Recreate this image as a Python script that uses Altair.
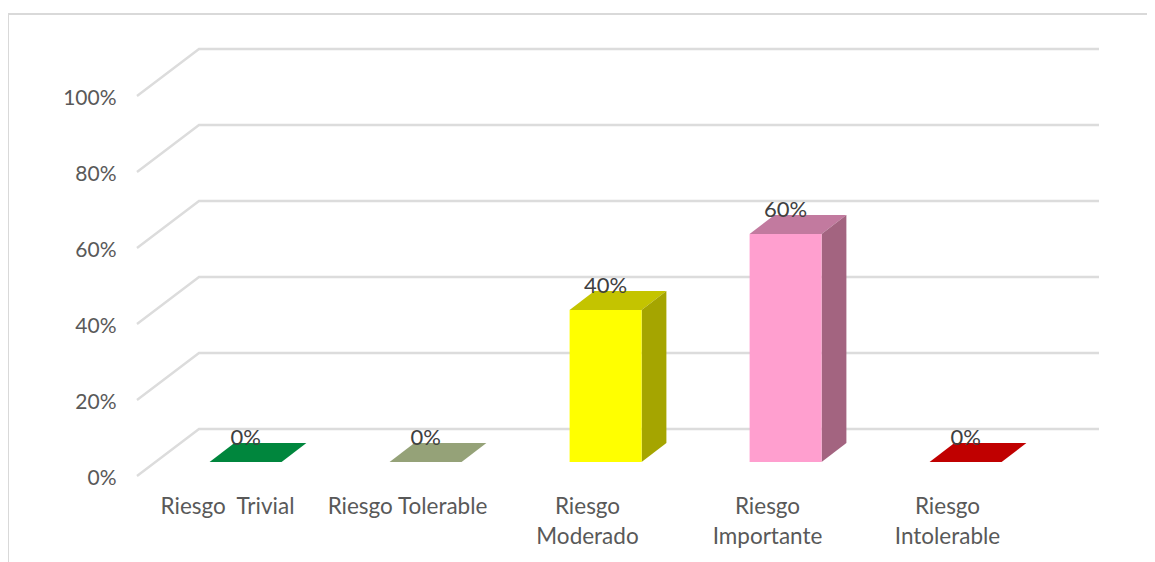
import json
import altair as alt
import pandas as pd

categories = ["Riesgo\u00a0 Trivial", "Riesgo Tolerable", "Riesgo\nModerado", "Riesgo\nImportante", "Riesgo\nIntolerable"]
values = [0, 0, 40, 60, 0]
labels = ["0%", "0%", "40%", "60%", "0%"]
front_colors = ["#00863D", "#95A278", "#FFFF00", "#FF9FCF", "#C00000"]
top_colors = ["#00863D", "#95A278", "#C4C400", "#C27A9F", "#C00000"]
side_colors = ["#00602C", "#6B7456", "#A5A500", "#A36480", "#8A0000"]
y_ticks = [0, 20, 40, 60, 80, 100]

# Depth of the pseudo-3D box, in axis units (1 category on x, 1 percent on y)
DX = 62 / 180
DY = 47 / 3.8
BAR_W = 72 / 180
D0, D1 = 0.3, 0.7
FONT = "Lato"
FS = 21

x_scale = alt.Scale(domain=[0, 5], nice=False, zero=False)
y_scale = alt.Scale(domain=[0, 100], nice=False, zero=False)
x_axis = alt.Axis(values=[i + 0.5 for i in range(5)], grid=False, domain=False, ticks=False,
                  labelExpr="split(" + json.dumps(categories) + "[floor(datum.value)], '\\n')",
                  labelFont=FONT, labelFontSize=22.5, labelColor="#595959", labelPadding=19,
                  labelLineHeight=30, labelAngle=0, labelOverlap=False, labelFlush=False, labelBound=False)
y_axis = alt.Axis(values=y_ticks, grid=False, domain=False, ticks=False,
                  labelExpr="datum.value + '%'", labelFont=FONT, labelFontSize=FS,
                  labelColor="#595959", labelPadding=21, labelOffset=2, labelOverlap=False,
                  labelFlush=False, labelBound=False)
X = alt.X("x:Q", scale=x_scale, title=None, axis=x_axis)
Y = alt.Y("y:Q", scale=y_scale, title=None, axis=y_axis)

# walls
grid_rows = []
for t in y_ticks:
    grid_rows += [
        {"tick": t, "order": 0, "x": 0, "y": t},
        {"tick": t, "order": 1, "x": DX, "y": t + DY},
        {"tick": t, "order": 2, "x": 5 + DX, "y": t + DY},
    ]
grid = alt.Chart(pd.DataFrame(grid_rows)).mark_line(color="#DCDCDC", strokeWidth=2.4).encode(
    x=X, y=Y, detail="tick:N", order="order:Q",
)

# outer frame of the chart
frame_df = pd.DataFrame([
    {"x": (8 - 137) / 180, "x2": (1147 - 137) / 180, "y": (476 - 14) / 3.8, "y2": (476 - 14) / 3.8},
    {"x": (8 - 137) / 180, "x2": (8 - 137) / 180, "y": (476 - 14) / 3.8, "y2": (476 - 562) / 3.8},
])
frame = alt.Chart(frame_df).mark_rule(color="#D9D9D9", strokeWidth=2).encode(x=X, x2="x2:Q", y=Y, y2="y2:Q")

front_rows, top_rows, side_rows, text_rows = [], [], [], []
for i, v in enumerate(values):
    xl = i + 0.5 - BAR_W / 2 + D0 * DX
    xr = xl + BAR_W
    b = D0 * DY
    d = (D1 - D0)
    front_rows.append({"x": xl, "x2": xr, "y": b, "y2": b + v, "color": front_colors[i]})
    t = b + v
    for px, lo, hi in [
        (xl, t, t),
        (xl + d * DX, t, t + d * DY),
        (xr, t, t + d * DY),
        (xr + d * DX, t + d * DY, t + d * DY),
    ]:
        top_rows.append({"bar": i, "x": px, "y": lo, "y2": hi, "color": top_colors[i]})
    if v > 0:
        side_rows.append({"bar": i, "x": xr, "y": b, "y2": t, "color": side_colors[i]})
        side_rows.append({"bar": i, "x": xr + d * DX, "y": b + d * DY, "y2": t + d * DY, "color": side_colors[i]})
    text_rows.append({"x": (xl + xr) / 2, "y": t + d * DY, "label": labels[i]})

front = alt.Chart(pd.DataFrame(front_rows)).mark_rect().encode(
    x=X, x2="x2:Q", y=Y, y2="y2:Q", fill=alt.Fill("color:N", scale=None))
top = alt.Chart(pd.DataFrame(top_rows)).mark_area().encode(
    x=X, y=Y, y2="y2:Q", detail="bar:N", fill=alt.Fill("color:N", scale=None))
side = alt.Chart(pd.DataFrame(side_rows)).mark_area().encode(
    x=X, y=Y, y2="y2:Q", detail="bar:N", fill=alt.Fill("color:N", scale=None))
text = alt.Chart(pd.DataFrame(text_rows)).mark_text(
    font=FONT, fontSize=22, color="#404040", baseline="middle", align="center", dy=-5
).encode(x=X, y=Y, text="label:N")

chart = alt.layer(grid, frame, top, side, front, text).properties(
    width=900, height=380,
    padding={"left": 129, "top": 88, "right": 110, "bottom": 86},
    autosize=alt.AutoSizeParams(type="none"),
).configure_view(stroke=None)

chart.save("out.html", embed_options={"renderer": "svg", "actions": False})
